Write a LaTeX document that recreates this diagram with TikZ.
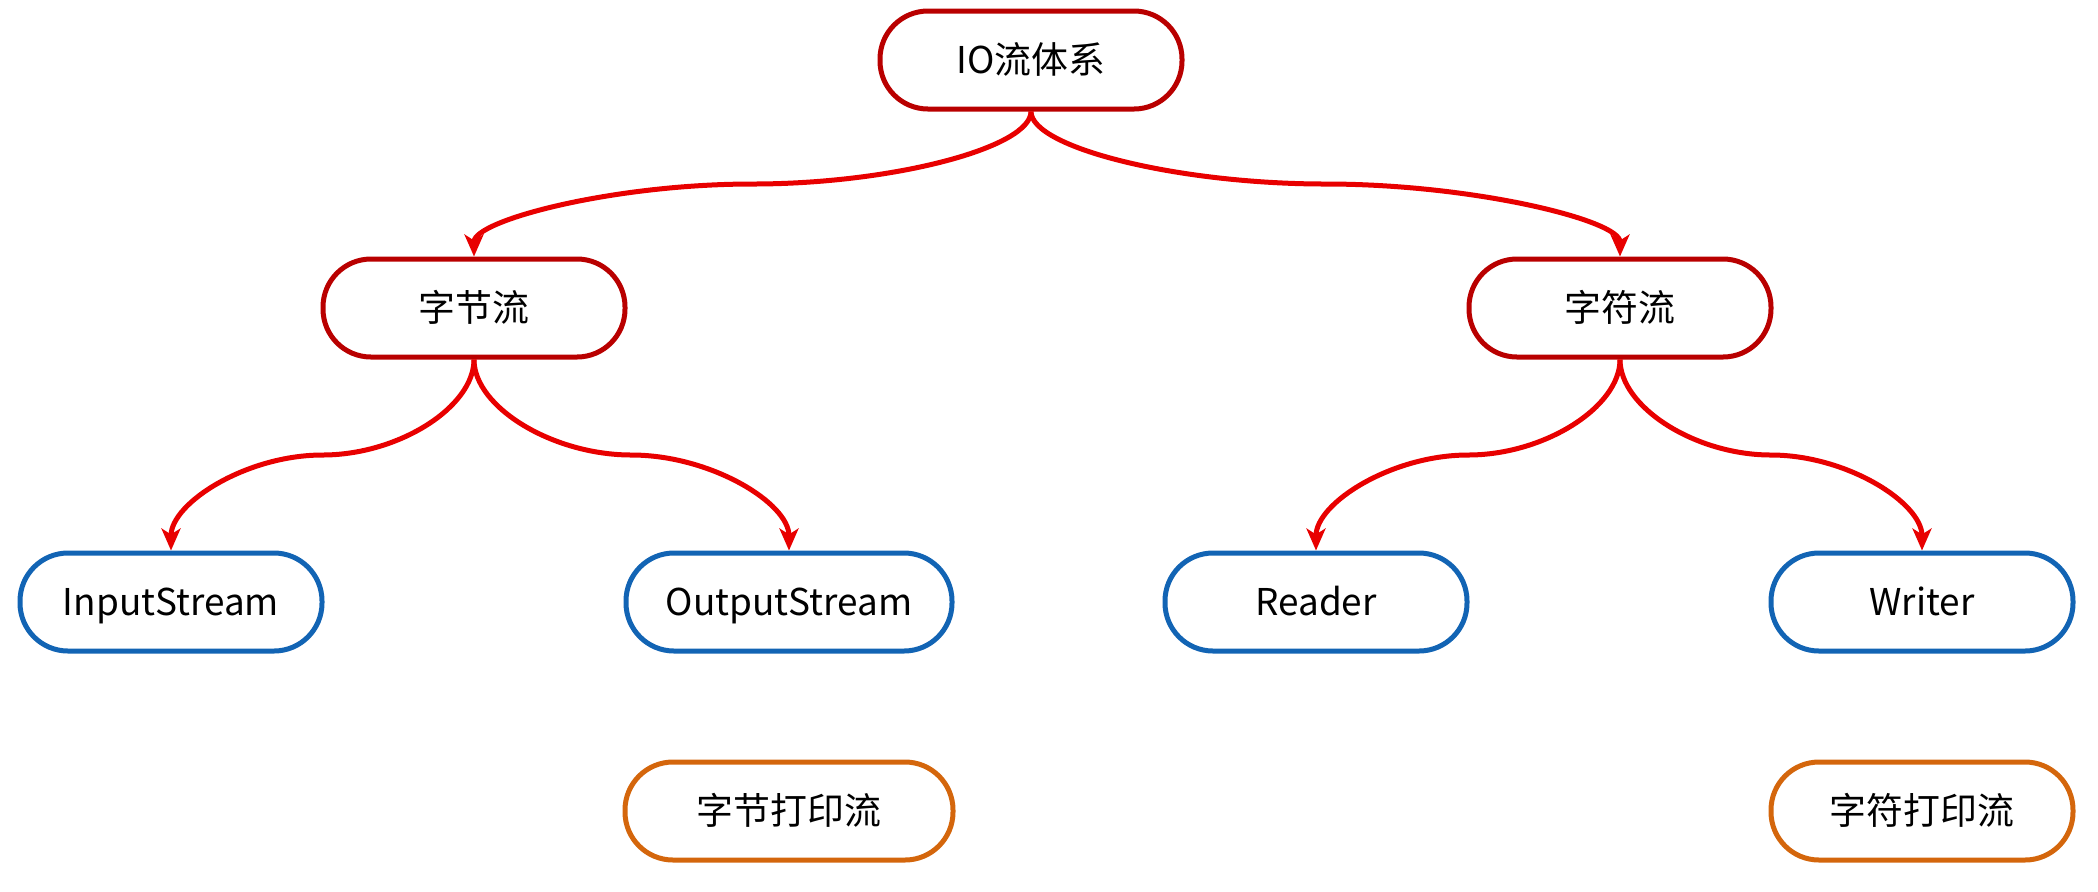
\documentclass[tikz,border=0pt]{standalone}
\usepackage{fontspec}
\setmainfont{Noto Sans CJK SC}
\usetikzlibrary{arrows.meta,calc}

\definecolor{boxred}{RGB}{185,0,0}
\definecolor{linkred}{RGB}{232,0,0}
\definecolor{boxblue}{RGB}{18,100,180}
\definecolor{boxorange}{RGB}{212,102,12}

\begin{document}
\begin{tikzpicture}[
    every node/.style={font=\fontsize{10.5pt}{12pt}\selectfont, text=black},
    pill/.style={draw, fill=white, line width=0.05cm, rounded corners=0.48cm,
                 minimum width=3.02cm, minimum height=0.98cm, inner xsep=2pt,
                 text height=0.88em, text depth=0.12em},
    group/.style={pill, draw=boxred},
    stream/.style={pill, draw=boxblue},
    printer/.style={pill, draw=boxorange},
    link/.style={draw=linkred, line width=0.05cm,
                 -{Stealth[length=0.22cm, width=0.19cm, inset=0.06cm]}},
    % two-piece curved connector: down, across, down
    sway/.style={to path={let \p1=(\tikztostart), \p2=(\tikztotarget) in
        .. controls (\x1,0.75*\y1+0.25*\y2) and (0.75*\x1+0.25*\x2,0.5*\y1+0.5*\y2)
        .. (0.5*\x1+0.5*\x2,0.5*\y1+0.5*\y2)
        .. controls (0.25*\x1+0.75*\x2,0.5*\y1+0.5*\y2) and (\x2,0.25*\y1+0.75*\y2)
        .. (\tikztotarget)}}
]
  \useasboundingbox (0,0) rectangle (20.98,-8.91);

  \node[group] (io) at (10.31,-0.60) {IO流体系};
  \node[group] (byte) at (4.74,-3.08) {字节流};
  \node[group] (char) at (16.20,-3.08) {字符流};

  \node[stream] (instream)  at (1.71,-6.02) {InputStream};
  \node[stream, minimum width=3.26cm] (outstream) at (7.89,-6.02) {OutputStream};
  \node[stream] (reader)    at (13.16,-6.02) {Reader};
  \node[stream] (writer)    at (19.22,-6.02) {Writer};

  % print streams, not linked
  \node[printer, minimum width=3.28cm] (byteprint) at (7.89,-8.11) {字节打印流};
  \node[printer] (charprint) at (19.22,-8.11) {字符打印流};

  \draw[link] (io.south) to[sway] (byte.north);
  \draw[link] (io.south) to[sway] (char.north);
  \draw[link] (byte.south) to[sway] (instream.north);
  \draw[link] (byte.south) to[sway] (outstream.north);
  \draw[link] (char.south) to[sway] (reader.north);
  \draw[link] (char.south) to[sway] (writer.north);
\end{tikzpicture}
\end{document}
